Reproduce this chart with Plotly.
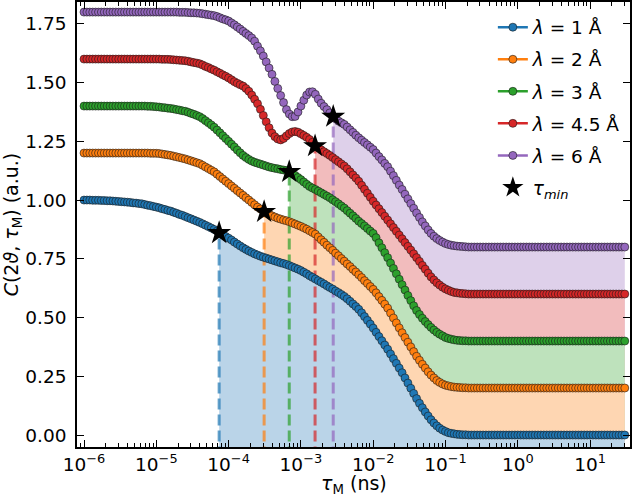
import numpy as np
import plotly.graph_objects as go

# sampling grid of the correlation time (ns)
tau = np.logspace(-6, 1.48, 188)

labels = ["<i>λ</i> = 1 Å", "<i>λ</i> = 2 Å", "<i>λ</i> = 3 Å",
          "<i>λ</i> = 4.5 Å", "<i>λ</i> = 6 Å"]

c_lam1 = [
    1.000, 1.000, 1.000, 0.999, 0.999, 0.999, 0.998, 0.998, 0.997, 0.997,
    0.996, 0.995, 0.994, 0.993, 0.992, 0.991, 0.990, 0.988, 0.987, 0.985,
    0.984, 0.981, 0.978, 0.976, 0.973, 0.970, 0.967, 0.963, 0.960, 0.956,
    0.953, 0.948, 0.944, 0.939, 0.935, 0.930, 0.925, 0.920, 0.915, 0.910,
    0.905, 0.899, 0.893, 0.887, 0.881, 0.875, 0.868, 0.860, 0.853, 0.845,
    0.838, 0.830, 0.821, 0.813, 0.805, 0.797, 0.790, 0.783, 0.777, 0.771,
    0.766, 0.761, 0.757, 0.753, 0.749, 0.745, 0.741, 0.737, 0.733, 0.730,
    0.726, 0.721, 0.716, 0.711, 0.706, 0.700, 0.693, 0.686, 0.678, 0.671,
    0.664, 0.657, 0.650, 0.643, 0.635, 0.628, 0.621, 0.613, 0.606, 0.598,
    0.590, 0.580, 0.569, 0.558, 0.547, 0.535, 0.520, 0.504, 0.488, 0.472,
    0.455, 0.437, 0.419, 0.401, 0.383, 0.365, 0.345, 0.325, 0.305, 0.285,
    0.265, 0.243, 0.221, 0.199, 0.177, 0.155, 0.135, 0.116, 0.098, 0.081,
    0.065, 0.051, 0.039, 0.029, 0.021, 0.015, 0.010, 0.007, 0.005, 0.003,
    0.002, 0.001, 0.001, 0.000, 0.000,
    0, 0, 0, 0, 0, 0, 0, 0, 0, 0,
    0, 0, 0, 0, 0, 0, 0, 0, 0, 0,
    0, 0, 0, 0, 0, 0, 0, 0, 0, 0,
    0, 0, 0, 0, 0, 0, 0, 0, 0, 0,
    0, 0, 0, 0, 0, 0, 0, 0, 0, 0,
    0, 0, 0,
]

c_lam2 = [
    1.200, 1.200, 1.200, 1.200, 1.200, 1.200, 1.200, 1.200, 1.200, 1.200,
    1.200, 1.200, 1.200, 1.200, 1.200, 1.200, 1.200, 1.200, 1.200, 1.200,
    1.200, 1.200, 1.200, 1.199, 1.199, 1.199, 1.198, 1.196, 1.194, 1.192,
    1.190, 1.187, 1.184, 1.181, 1.178, 1.175, 1.171, 1.167, 1.163, 1.159,
    1.155, 1.148, 1.141, 1.134, 1.127, 1.120, 1.110, 1.100, 1.090, 1.080,
    1.070, 1.060, 1.050, 1.040, 1.030, 1.020, 1.010, 1.000, 0.990, 0.980,
    0.970, 0.962, 0.954, 0.947, 0.940, 0.933, 0.928, 0.923, 0.919, 0.915,
    0.912, 0.908, 0.903, 0.898, 0.893, 0.888, 0.882, 0.876, 0.869, 0.862,
    0.855, 0.843, 0.831, 0.820, 0.808, 0.797, 0.786, 0.774, 0.763, 0.751,
    0.740, 0.728, 0.717, 0.705, 0.694, 0.682, 0.670, 0.657, 0.645, 0.632,
    0.620, 0.605, 0.589, 0.573, 0.557, 0.540, 0.519, 0.498, 0.477, 0.456,
    0.435, 0.415, 0.395, 0.375, 0.355, 0.335, 0.318, 0.301, 0.285, 0.269,
    0.255, 0.243, 0.232, 0.224, 0.217, 0.212, 0.209, 0.206, 0.204, 0.203,
    0.202, 0.201, 0.201, 0.200, 0.200,
    0.2, 0.2, 0.2, 0.2, 0.2, 0.2, 0.2, 0.2, 0.2, 0.2,
    0.2, 0.2, 0.2, 0.2, 0.2, 0.2, 0.2, 0.2, 0.2, 0.2,
    0.2, 0.2, 0.2, 0.2, 0.2, 0.2, 0.2, 0.2, 0.2, 0.2,
    0.2, 0.2, 0.2, 0.2, 0.2, 0.2, 0.2, 0.2, 0.2, 0.2,
    0.2, 0.2, 0.2, 0.2, 0.2, 0.2, 0.2, 0.2, 0.2, 0.2,
    0.2, 0.2, 0.2,
]

c_lam3 = [
    1.400, 1.400, 1.400, 1.400, 1.400, 1.400, 1.400, 1.400, 1.400, 1.400,
    1.400, 1.400, 1.400, 1.400, 1.400, 1.400, 1.400, 1.400, 1.400, 1.400,
    1.400, 1.400, 1.399, 1.399, 1.398, 1.397, 1.396, 1.394, 1.393, 1.391,
    1.390, 1.388, 1.385, 1.383, 1.380, 1.378, 1.374, 1.369, 1.365, 1.360,
    1.355, 1.347, 1.338, 1.329, 1.320, 1.310, 1.298, 1.286, 1.274, 1.262,
    1.250, 1.238, 1.226, 1.213, 1.201, 1.190, 1.181, 1.173, 1.166, 1.161,
    1.157, 1.153, 1.149, 1.145, 1.141, 1.138, 1.135, 1.133, 1.130, 1.128,
    1.126, 1.120, 1.113, 1.105, 1.096, 1.087, 1.077, 1.067, 1.058, 1.051,
    1.045, 1.038, 1.031, 1.024, 1.017, 1.010, 1.001, 0.993, 0.984, 0.975,
    0.966, 0.955, 0.944, 0.933, 0.922, 0.910, 0.900, 0.890, 0.879, 0.868,
    0.858, 0.840, 0.818, 0.797, 0.776, 0.755, 0.732, 0.709, 0.686, 0.663,
    0.640, 0.617, 0.594, 0.572, 0.550, 0.530, 0.513, 0.497, 0.483, 0.470,
    0.458, 0.447, 0.437, 0.429, 0.422, 0.415, 0.411, 0.408, 0.405, 0.403,
    0.402, 0.401, 0.401, 0.400, 0.400,
    0.4, 0.4, 0.4, 0.4, 0.4, 0.4, 0.4, 0.4, 0.4, 0.4,
    0.4, 0.4, 0.4, 0.4, 0.4, 0.4, 0.4, 0.4, 0.4, 0.4,
    0.4, 0.4, 0.4, 0.4, 0.4, 0.4, 0.4, 0.4, 0.4, 0.4,
    0.4, 0.4, 0.4, 0.4, 0.4, 0.4, 0.4, 0.4, 0.4, 0.4,
    0.4, 0.4, 0.4, 0.4, 0.4, 0.4, 0.4, 0.4, 0.4, 0.4,
    0.4, 0.4, 0.4,
]

c_lam45 = [
    1.600, 1.600, 1.600, 1.600, 1.600, 1.600, 1.600, 1.600, 1.600, 1.600,
    1.600, 1.600, 1.600, 1.600, 1.600, 1.600, 1.600, 1.600, 1.600, 1.600,
    1.600, 1.600, 1.600, 1.600, 1.600, 1.600, 1.600, 1.599, 1.599, 1.599,
    1.598, 1.597, 1.596, 1.595, 1.594, 1.593, 1.591, 1.588, 1.585, 1.583,
    1.580, 1.575, 1.569, 1.564, 1.558, 1.553, 1.546, 1.540, 1.533, 1.527,
    1.520, 1.512, 1.504, 1.497, 1.491, 1.485, 1.475, 1.463, 1.447, 1.429,
    1.410, 1.386, 1.360, 1.333, 1.308, 1.285, 1.270, 1.260, 1.256, 1.262,
    1.273, 1.283, 1.290, 1.292, 1.289, 1.282, 1.275, 1.267, 1.258, 1.246,
    1.232, 1.223, 1.214, 1.206, 1.198, 1.190, 1.181, 1.172, 1.163, 1.154,
    1.145, 1.133, 1.120, 1.107, 1.094, 1.080, 1.063, 1.046, 1.029, 1.012,
    0.995, 0.979, 0.963, 0.947, 0.931, 0.915, 0.899, 0.883, 0.867, 0.851,
    0.835, 0.819, 0.803, 0.787, 0.771, 0.755, 0.739, 0.722, 0.706, 0.689,
    0.673, 0.660, 0.648, 0.638, 0.629, 0.622, 0.616, 0.611, 0.607, 0.605,
    0.603, 0.602, 0.601, 0.600, 0.600,
    0.6, 0.6, 0.6, 0.6, 0.6, 0.6, 0.6, 0.6, 0.6, 0.6,
    0.6, 0.6, 0.6, 0.6, 0.6, 0.6, 0.6, 0.6, 0.6, 0.6,
    0.6, 0.6, 0.6, 0.6, 0.6, 0.6, 0.6, 0.6, 0.6, 0.6,
    0.6, 0.6, 0.6, 0.6, 0.6, 0.6, 0.6, 0.6, 0.6, 0.6,
    0.6, 0.6, 0.6, 0.6, 0.6, 0.6, 0.6, 0.6, 0.6, 0.6,
    0.6, 0.6, 0.6,
]

c_lam6 = [
    1.800, 1.800, 1.800, 1.800, 1.800, 1.800, 1.800, 1.800, 1.800, 1.800,
    1.800, 1.800, 1.800, 1.800, 1.800, 1.800, 1.800, 1.800, 1.800, 1.800,
    1.800, 1.800, 1.800, 1.800, 1.800, 1.800, 1.800, 1.800, 1.800, 1.800,
    1.800, 1.800, 1.800, 1.799, 1.799, 1.799, 1.798, 1.797, 1.797, 1.796,
    1.795, 1.793, 1.791, 1.789, 1.787, 1.785, 1.781, 1.776, 1.771, 1.767,
    1.762, 1.754, 1.746, 1.737, 1.728, 1.718, 1.709, 1.700, 1.690, 1.676,
    1.655, 1.635, 1.613, 1.588, 1.562, 1.535, 1.505, 1.475, 1.445, 1.415,
    1.385, 1.366, 1.355, 1.356, 1.375, 1.400, 1.425, 1.447, 1.460, 1.461,
    1.450, 1.430, 1.412, 1.398, 1.385, 1.371, 1.358, 1.346, 1.336, 1.329,
    1.322, 1.311, 1.299, 1.288, 1.276, 1.265, 1.255, 1.245, 1.235, 1.225,
    1.215, 1.200, 1.185, 1.171, 1.156, 1.142, 1.123, 1.104, 1.084, 1.064,
    1.045, 1.025, 1.005, 0.985, 0.965, 0.945, 0.926, 0.907, 0.890, 0.873,
    0.858, 0.846, 0.836, 0.828, 0.821, 0.815, 0.811, 0.808, 0.806, 0.804,
    0.803, 0.802, 0.801, 0.800, 0.800,
    0.8, 0.8, 0.8, 0.8, 0.8, 0.8, 0.8, 0.8, 0.8, 0.8,
    0.8, 0.8, 0.8, 0.8, 0.8, 0.8, 0.8, 0.8, 0.8, 0.8,
    0.8, 0.8, 0.8, 0.8, 0.8, 0.8, 0.8, 0.8, 0.8, 0.8,
    0.8, 0.8, 0.8, 0.8, 0.8, 0.8, 0.8, 0.8, 0.8, 0.8,
    0.8, 0.8, 0.8, 0.8, 0.8, 0.8, 0.8, 0.8, 0.8, 0.8,
    0.8, 0.8, 0.8,
]

series = [c_lam1, c_lam2, c_lam3, c_lam45, c_lam6]
for s in series:
    if len(s) != len(tau):
        raise ValueError("length mismatch %d" % len(s))

tau_min = [7.4e-5, 3.1e-4, 6.9e-4, 1.57e-3, 2.8e-3]
c_at_tau_min = [0.86, 0.95, 1.12, 1.23, 1.355]
star_label = "<i>τ</i><sub><i>min</i></sub>"
x_title = "<i>τ</i><sub>M</sub> (ns)"
y_title = "<i>C</i>(2<i>ϑ</i>, <i>τ</i><sub>M</sub>) (a.u.)"

line_colors = ["#1f77b4", "#ff7f0e", "#2ca02c", "#d62728", "#9467bd"]
dash_colors = ["rgba(31,119,180,0.7)", "rgba(255,127,14,0.7)", "rgba(44,160,44,0.7)",
               "rgba(214,39,40,0.7)", "rgba(148,103,189,0.7)"]
fill_colors = ["rgb(186,212,232)", "rgb(254,214,178)", "rgb(190,226,188)",
               "rgb(242,188,189)", "rgb(222,208,234)"]

x_tickvals = [1e-6, 1e-5, 1e-4, 1e-3, 1e-2, 1e-1, 1e0, 1e1]
x_ticktext = ["10<sup>−6</sup>", "10<sup>−5</sup>", "10<sup>−4</sup>", "10<sup>−3</sup>",
              "10<sup>−2</sup>", "10<sup>−1</sup>", "10<sup>0</sup>", "10<sup>1</sup>"]
y_tickvals = [0.0, 0.25, 0.5, 0.75, 1.0, 1.25, 1.5, 1.75]

x_range = [-6.097, 1.552]
y_range = [-0.051, 1.843]
y_floor = -0.3
FS_TICK = 18.5
FS_TITLE = 19
FS_LEG = 18.5

minor_vals = []
for k in range(-7, 2):
    for m in range(2, 10):
        v = m * 10.0 ** k
        if x_range[0] <= np.log10(v) <= x_range[1]:
            minor_vals.append(v)

fig = go.Figure()

# filled regions beyond tau_min (back to front)
for i in reversed(range(5)):
    y = np.array(series[i])
    mask = tau > tau_min[i]
    xs = [tau_min[i]] + list(tau[mask]) + [tau[mask][-1], tau_min[i]]
    ys = [c_at_tau_min[i]] + list(y[mask]) + [y_floor, y_floor]
    fig.add_trace(go.Scatter(x=xs, y=ys, mode="lines", fill="toself",
                             fillcolor=fill_colors[i], line=dict(width=0),
                             showlegend=False, hoverinfo="skip"))

# dashed markers of tau_min
for i in range(5):
    fig.add_trace(go.Scatter(x=[tau_min[i], tau_min[i]], y=[y_floor, c_at_tau_min[i]],
                             mode="lines",
                             line=dict(color=dash_colors[i], width=3, dash="11px,5px"),
                             showlegend=False, hoverinfo="skip"))

# curves
for i in range(5):
    fig.add_trace(go.Scatter(x=tau, y=series[i], mode="lines+markers", name=labels[i],
                             legendgroup="g%d" % i,
                             line=dict(color=line_colors[i], width=2.5),
                             marker=dict(size=8, color=line_colors[i],
                                         line=dict(color="#1a1a1a", width=0.6))))

fig.add_trace(go.Scatter(x=tau_min, y=c_at_tau_min, mode="markers", name=star_label,
                         legendgroup="gstar",
                         marker=dict(symbol="star", size=18, color="black",
                                     line=dict(width=0))))

axis_common = dict(showline=True, linecolor="black", linewidth=1.5, mirror="allticks",
                   ticks="inside", ticklen=7, tickwidth=1.3, tickcolor="black",
                   showgrid=False, zeroline=False, automargin=False,
                   tickfont=dict(family="DejaVu Sans", size=FS_TICK, color="black"))

fig.update_layout(
    width=640, height=498,
    margin=dict(l=77, r=10, t=2, b=51),
    paper_bgcolor="white", plot_bgcolor="white",
    font=dict(family="DejaVu Sans", size=FS_TICK, color="black"),
    xaxis=dict(type="log", range=x_range, tickmode="array", tickvals=x_tickvals,
               ticktext=x_ticktext, ticklabelstandoff=0,
               minor=dict(tickmode="array", tickvals=minor_vals, ticks="inside",
                          ticklen=4, tickwidth=1, tickcolor="black"),
               **axis_common),
    yaxis=dict(range=y_range, tickmode="array", tickvals=y_tickvals, tickformat=".2f",
               ticklabelstandoff=5, **axis_common),
    legend=dict(x=0.752, y=0.985, xanchor="left", yanchor="top",
                traceorder="grouped", tracegroupgap=5,
                bgcolor="rgba(0,0,0,0)", borderwidth=0,
                font=dict(family="DejaVu Sans", size=FS_LEG, color="black")),
    showlegend=True,
    annotations=[
        dict(text=x_title, xref="paper", yref="paper", x=0.5, y=-0.085,
             xanchor="center", yanchor="middle", showarrow=False,
             font=dict(family="DejaVu Sans", size=FS_TITLE, color="black")),
        dict(text=y_title, xref="paper", yref="paper", x=-0.116, y=0.5,
             xanchor="center", yanchor="middle", showarrow=False, textangle=-90,
             font=dict(family="DejaVu Sans", size=FS_TITLE, color="black")),
    ],
)

fig.write_html("out.html")
